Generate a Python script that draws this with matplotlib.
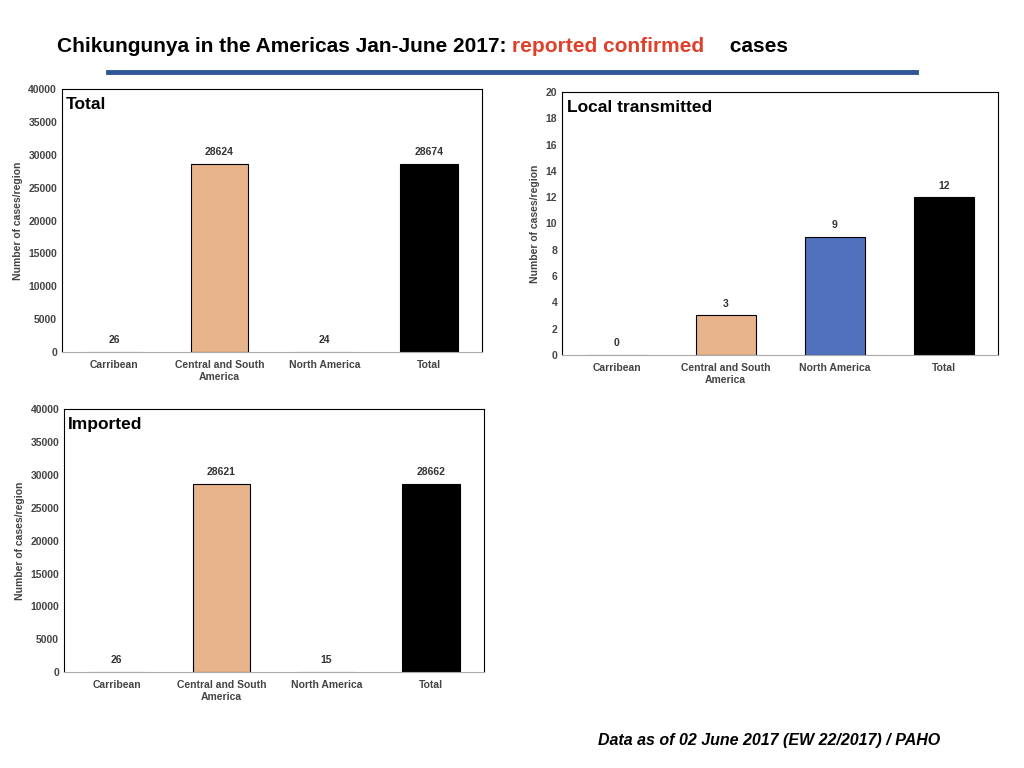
import matplotlib.pyplot as plt
from matplotlib.lines import Line2D

regions = ["Carribean", "Central and South\nAmerica", "North America", "Total"]
total_cases = [26, 28624, 24, 28674]
local_cases = [0, 3, 9, 12]
imported_cases = [26, 28621, 15, 28662]

PEACH = "#E8B48C"
BLUE = "#4F71BE"
colors = ["#7f7f7f", PEACH, BLUE, "black"]

plt.rcParams["font.family"] = ["Liberation Sans", "DejaVu Sans"]

fig = plt.figure(figsize=(10.24, 7.68), dpi=100)


def panel(rect, values, title, ymax, step):
    ax = fig.add_axes(rect)
    bars = ax.bar(range(len(values)), values, width=0.55, color=colors,
                  edgecolor="black", linewidth=0.8)
    for i, b in enumerate(bars):
        if values[i] < ymax * 0.01 and i in (0, 2) and ymax > 100:
            b.set_edgecolor("#7f7f7f")
        ax.text(b.get_x() + b.get_width() / 2, values[i] + ymax * 0.025,
                str(values[i]), ha="center", va="bottom", fontsize=7.5,
                fontweight="bold", color="#333333")
    ax.set_ylim(0, ymax)
    ax.set_yticks(range(0, ymax + 1, step))
    ax.set_xlim(-0.5, len(values) - 0.5)
    ax.set_xticks(range(len(values)))
    ax.set_xticklabels(regions, fontsize=7.5, fontweight="bold", color="#444444")
    ax.tick_params(axis="y", labelsize=7.5, length=0, labelcolor="#444444")
    ax.tick_params(axis="x", length=0, pad=6)
    for lab in ax.get_yticklabels():
        lab.set_fontweight("bold")
    ax.set_ylabel("Number of cases/region", fontsize=7.5, fontweight="bold",
                  color="#444444")
    for s in ["top", "right", "left"]:
        ax.spines[s].set_color("black")
        ax.spines[s].set_linewidth(0.8)
    ax.spines["bottom"].set_color("#aaaaaa")
    ax.text(0.01, 0.97, title, transform=ax.transAxes, ha="left", va="top",
            fontsize=12.5, fontweight="bold")
    return ax


panel([0.0605, 0.5417, 0.41, 0.342], total_cases, "Total", 40000, 5000)
panel([0.549, 0.538, 0.426, 0.342], local_cases, "Local transmitted", 20, 2)
panel([0.0625, 0.125, 0.41, 0.342], imported_cases, "Imported", 40000, 5000)

fig.text(0.5, 0.94, "Chikungunya in the Americas Jan-June 2017: ", ha="right",
         va="center", fontsize=15, fontweight="bold")
fig.text(0.5, 0.94, "reported confirmed", ha="left", va="center", fontsize=15,
         fontweight="bold", color="#E0402A")
fig.text(0.5 + 0.207, 0.94, " cases", ha="left", va="center", fontsize=15,
         fontweight="bold")
fig.add_artist(Line2D([0.105, 0.895], [0.906, 0.906], color="#2E5597",
                      linewidth=3.5, transform=fig.transFigure))
fig.text(0.918, 0.036, "Data as of 02 June 2017 (EW 22/2017) / PAHO", ha="right",
         va="center", fontsize=11.5, fontweight="bold", style="italic")

fig.savefig("out.png", dpi=100)
